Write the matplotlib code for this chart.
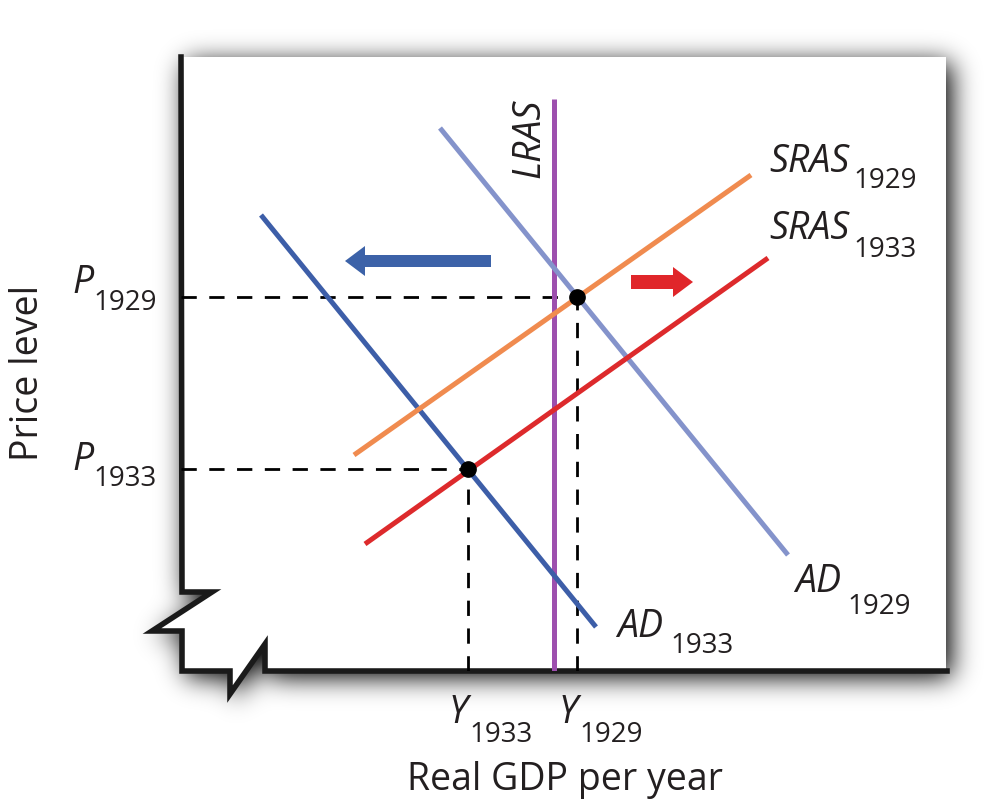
import numpy as np
import matplotlib.pyplot as plt
from matplotlib.patches import Polygon, FancyArrow
from matplotlib.path import Path

plt.rcParams['font.family'] = ['Open Sans', 'DejaVu Sans']
plt.rcParams['lines.scale_dashes'] = False

# graph units: origin at the axis corner, 1 unit ~ 1 pixel
lras_x = 373
lras_top = 572
ad1929_x = [259, 607]
ad1929_y = [543, 116]
ad1933_x = [80, 415]
ad1933_y = [456, 44]
sras1929_x = [173, 570]
sras1929_y = [216, 496]
sras1933_x = [184, 587]
sras1933_y = [127, 413]
eq_x = [396, 287]   # Y1929, Y1933
eq_y = [374, 202]   # P1929, P1933
ad_shift = [310, 164, 410]     # x from, x to, y
sras_shift = [450, 512, 389]

text_col = '#231f20'
c_ad29 = '#8493cb'
c_ad33 = '#3d5ea8'
c_sr29 = '#f08b4f'
c_sr33 = '#dd2a2c'
c_lras = '#9d4fae'

W, H = 984, 804
fig = plt.figure(figsize=(W / 100, H / 100), dpi=100)
bg = fig.add_axes([0, 0, 1, 1])
bg.set_xlim(0, W)
bg.set_ylim(H, 0)
bg.axis('off')

# box outline with the axis breaks (pixel coords)
box = [(181, 58), (946, 58), (946, 672), (265, 672), (265, 645), (230, 695),
       (230, 672), (182, 672), (182, 632), (152, 632), (212, 593), (182, 593)]
outline = [(181, 58), (182, 593), (212, 593), (152, 632), (182, 632), (182, 672),
           (230, 672), (230, 695), (265, 645), (265, 672), (947, 672)]

# soft drop shadow
yy, xx = np.mgrid[0:H, 0:W]
pts = np.column_stack([xx.ravel() - 4, yy.ravel() - 5])
mask = Path(box).contains_points(pts).reshape(H, W).astype(float)
sig = 13
k = np.exp(-0.5 * (np.arange(-3 * sig, 3 * sig + 1) / sig) ** 2)
k /= k.sum()
blur = np.apply_along_axis(lambda r: np.convolve(r, k, mode='same'), 1, mask)
blur = np.apply_along_axis(lambda c: np.convolve(c, k, mode='same'), 0, blur)
rgba = np.zeros((H, W, 4))
rgba[..., 3] = np.clip(blur * 1.05, 0, 1)
bg.imshow(rgba, extent=(0, W, H, 0), zorder=0, interpolation='bilinear')

bg.add_patch(Polygon(box, closed=True, facecolor='white', edgecolor='none', zorder=1))
ox, oy = zip(*outline)
bg.plot(ox, oy, color='#1a1a1a', lw=4, solid_joinstyle='miter', zorder=2)

# plot area
ax = fig.add_axes([181 / W, (H - 672) / H, 765 / W, 614 / H])
ax.set_xlim(0, 765)
ax.set_ylim(0, 614)
ax.axis('off')
ax.patch.set_alpha(0)

dash = dict(color='black', lw=2, dashes=(11, 9))
for x, y in zip(eq_x, eq_y):
    ax.plot([0, x], [y, y], **dash)
    ax.plot([x, x], [0, y], **dash)

ax.plot([lras_x, lras_x], [0, lras_top], color=c_lras, lw=3.6, solid_capstyle='butt')
ax.plot(ad1929_x, ad1929_y, color=c_ad29, lw=3.6, solid_capstyle='butt')
ax.plot(ad1933_x, ad1933_y, color=c_ad33, lw=3.6, solid_capstyle='butt')
ax.plot(sras1929_x, sras1929_y, color=c_sr29, lw=3.6, solid_capstyle='butt')
ax.plot(sras1933_x, sras1933_y, color=c_sr33, lw=3.6, solid_capstyle='butt')
ax.plot(eq_x, eq_y, 'o', color='black', ms=11, zorder=5)

ax.add_patch(FancyArrow(ad_shift[0], ad_shift[2], ad_shift[1] - ad_shift[0], 0,
                        width=12, head_width=30, head_length=20,
                        length_includes_head=True, color='#3c62a8', lw=0))
ax.add_patch(FancyArrow(sras_shift[0], sras_shift[2], sras_shift[1] - sras_shift[0], 0,
                        width=14, head_width=30, head_length=20,
                        length_includes_head=True, color='#e0262a', lw=0))

# labels (pixel coords)
big, small = 27, 20


def label(x, y, main, sub, sx, sy):
    bg.text(x, y, main, fontsize=big, style='italic', color=text_col, va='baseline', zorder=6)
    bg.text(sx, sy, sub, fontsize=small, color=text_col, va='baseline', zorder=6)


label(769, 172, 'SRAS', '1929', 853, 188)
label(769, 239, 'SRAS', '1933', 853, 257)
label(795, 592, 'AD', '1929', 847, 614)
label(617, 637, 'AD', '1933', 670, 653)
label(72, 293, 'P', '1929', 93, 310)
label(72, 470, 'P', '1933', 93, 486)
label(449, 723, 'Y', '1933', 469, 742)
label(559, 723, 'Y', '1929', 579, 742)

bg.text(529, 138, 'LRAS', fontsize=big, style='italic', rotation=90,
        ha='center', va='center', color=text_col, zorder=6)
bg.text(28, 373, 'Price level', fontsize=big, rotation=90,
        ha='center', va='center', color=text_col)
bg.text(565, 790, 'Real GDP per year', fontsize=big, ha='center',
        va='baseline', color=text_col)

fig.savefig('out.png', dpi=100)
